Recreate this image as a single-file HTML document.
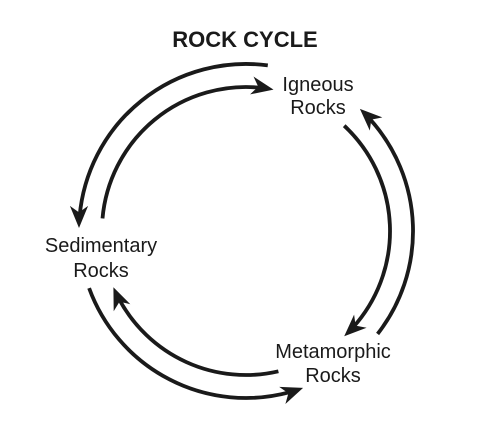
<!DOCTYPE html>
<html><head><style>html,body{margin:0;padding:0;background:#fff}</style></head><body>
<svg width="490" height="443" viewBox="0 0 490 443" xmlns="http://www.w3.org/2000/svg">
<g fill="none" stroke="#1a1a1a" stroke-width="3.8">
<path d="M267.8,65.4 A167,167 0 0 0 79.6,216.4"/>
<path d="M102.5,218.4 A144,144 0 0 1 261.0,87.8"/>
<path d="M344.2,125.7 A144,144 0 0 1 353.0,327.4"/>
<path d="M377.6,333.9 A167,167 0 0 0 370.1,119.3"/>
<path d="M278.4,371.3 A144,144 0 0 1 118.8,298.6"/>
<path d="M89.1,288.1 A167,167 0 0 0 289.2,392.3"/>
</g>
<g fill="#1a1a1a">
<polygon points="79,228 88.1,205.9 79,212.4 69.9,205.9"/>
<polygon points="273.5,89.6 250.1,94.4 258.2,86.6 253.5,76.5"/>
<polygon points="344.2,336.3 366.6,327.8 355.6,325.6 354.1,314.6"/>
<polygon points="359.9,108.9 382.3,117.4 371.3,119.6 369.8,130.6"/>
<polygon points="113.4,287.3 130.3,304.2 119.5,301.7 113.7,311.2"/>
<polygon points="303.1,387.9 285.4,404 288.4,393.2 279.2,386.9"/>
</g>
<g font-family="Liberation Sans, sans-serif" fill="#1a1a1a" text-anchor="middle">
<text x="245" y="47" font-size="22" font-weight="bold">ROCK CYCLE</text>
<text x="318" y="91" font-size="20">Igneous</text>
<text x="318" y="114" font-size="20">Rocks</text>
<text x="101" y="252" font-size="20">Sedimentary</text>
<text x="101" y="277" font-size="20">Rocks</text>
<text x="333" y="358" font-size="20">Metamorphic</text>
<text x="333" y="382" font-size="20">Rocks</text>
</g>
</svg>
</body></html>
